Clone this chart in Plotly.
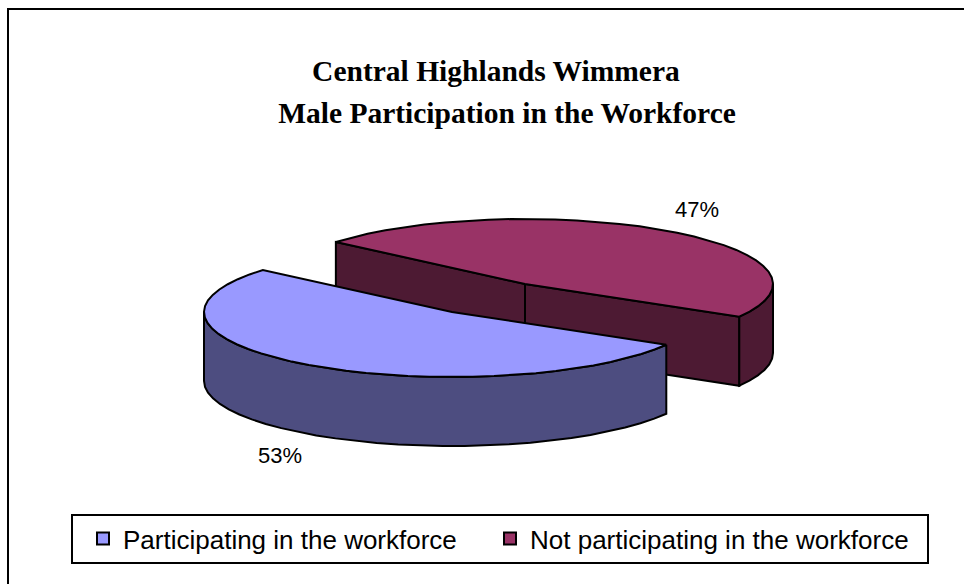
import numpy as np
import plotly.graph_objects as go

categories = ["Participating in the workforce", "Not participating in the workforce"]
shares = [52.8, 47.2]
top_colors = ["#9999FF", "#993366"]
side_colors = ["#4D4D80", "#4D1A33"]
title_lines = ["Central Highlands Wimmera", "Male Participation in the Workforce"]

# Projection of the tilted pie, in chart-area pixels
RX, RY, DEPTH = 248, 65, 69
CENTERS = [(452, 312), (525, 284)]  # exploded slice centres
START_DEG = 139.7                   # where the 47% slice starts; slices run clockwise


def rim(cx, cy, a0, a1, dy=0.0, step=5.0):
    n = max(2, int(abs(a1 - a0) / step) + 1)
    t = np.radians(np.linspace(a0, a1, n))
    return cx + RX * np.cos(t), cy - RY * np.sin(t) + dy


def face(fig, xs, ys, color):
    fig.add_trace(go.Scatter(
        x=np.append(xs, xs[0]), y=np.append(ys, ys[0]), mode="lines", fill="toself",
        fillcolor=color, line=dict(color="black", width=2), showlegend=False, hoverinfo="skip"))


total = sum(shares)
sweep = [s / total * 360 for s in shares]
a1_start, a1_end = START_DEG, START_DEG - sweep[1]
a0_start, a0_end = a1_end, a1_end - sweep[0]

fig = go.Figure()

# --- back slice (47%) ---
cx, cy = CENTERS[1]
ex0, ey0 = rim(cx, cy, a1_start, a1_start)
ex1, ey1 = rim(cx, cy, a1_end, a1_end)
for ex, ey in ((ex0[0], ey0[0]), (ex1[0], ey1[0])):
    face(fig, np.array([cx, ex, ex, cx]), np.array([cy, ey, ey + DEPTH, cy + DEPTH]), side_colors[1])
rx_, ry_ = rim(cx, cy, a1_end, 0)
face(fig, np.concatenate([rx_, rx_[::-1]]), np.concatenate([ry_, ry_[::-1] + DEPTH]), side_colors[1])
tx, ty = rim(cx, cy, a1_start, a1_end)
face(fig, np.append(tx, cx), np.append(ty, cy), top_colors[1])

# --- front slice (53%) ---
cx, cy = CENTERS[0]
rx_, ry_ = rim(cx, cy, a0_start, -180)
face(fig, np.concatenate([rx_, rx_[::-1]]), np.concatenate([ry_, ry_[::-1] + DEPTH]), side_colors[0])
tx, ty = rim(cx, cy, a0_start, a0_end)
face(fig, np.append(tx, cx), np.append(ty, cy), top_colors[0])

# --- legend (one legend per entry so each can sit at its own position) ---
for name, col, lg in zip(categories, top_colors, ["legend", "legend2"]):
    fig.add_trace(go.Scatter(
        x=[None], y=[None], mode="markers", name=name, legend=lg, showlegend=True,
        marker=dict(symbol="square", size=14, color=col, line=dict(color="black", width=2))))

# --- percentage labels ---
mids = [(a0_start + a0_end) / 2, (a1_start + a1_end) / 2]
annotations = []
for i, (s, m) in enumerate(zip(shares, mids)):
    t = np.radians(m)
    cx, cy = CENTERS[i]
    lx = cx + 1.2 * RX * np.cos(t)
    ly = cy - 1.40 * RY * np.sin(t) + (DEPTH if np.sin(t) < 0 else 0)
    annotations.append(dict(x=lx, y=ly, text=f"{round(s)}%", showarrow=False, xref="x", yref="y",
                            font=dict(family="Liberation Sans", size=22, color="black")))

title_text = "<br>".join(
    f'<span style="font-size:29.5px">{line}{pad}</span>'
    for line, pad in zip(title_lines, ["&nbsp;&nbsp;&nbsp;", ""]))

legend_common = dict(orientation="h", xanchor="left", yanchor="top", y=1 - 515 / 584,
                     bgcolor="rgba(0,0,0,0)", itemsizing="constant",
                     font=dict(family="Liberation Sans", size=26, color="black"))

fig.update_layout(
    width=964, height=584, margin=dict(l=0, r=0, t=0, b=0),
    paper_bgcolor="white", plot_bgcolor="white",
    xaxis=dict(range=[0, 964], visible=False, fixedrange=True),
    yaxis=dict(range=[584, 0], visible=False, fixedrange=True),
    title=dict(text=title_text, x=507 / 964, xanchor="center", y=1 - 81 / 584, yanchor="top",
               font=dict(family="Liberation Serif", size=32.3, color="black", weight="bold")),
    legend=dict(x=83 / 964, **legend_common),
    legend2=dict(x=490 / 964, **legend_common),
    annotations=annotations,
    shapes=[
        dict(type="rect", xref="x", yref="y", x0=8, y0=9, x1=990, y1=610,
             line=dict(color="black", width=2), fillcolor="rgba(0,0,0,0)", layer="below"),
        dict(type="rect", xref="x", yref="y", x0=72, y0=515, x1=928, y1=563,
             line=dict(color="black", width=2), fillcolor="white", layer="below"),
    ],
)
fig.write_html("out.html", config={"displayModeBar": False},
               post_script="document.body.style.margin='0';")
